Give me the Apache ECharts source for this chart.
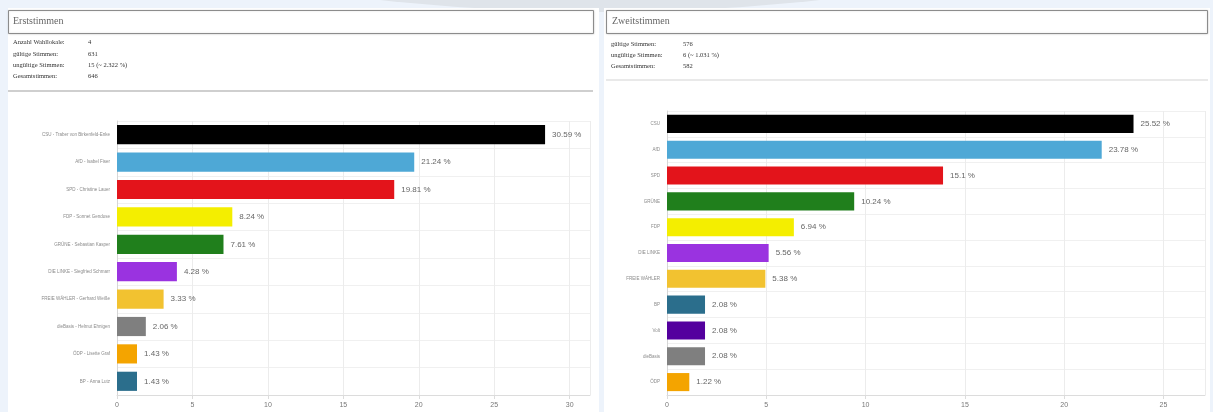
<!DOCTYPE html>
<html>
<head>
<meta charset="utf-8">
<style>
  html, body { margin: 0; padding: 0; background: #edf3fb; }
  #chart { width: 1213px; height: 412px; }
</style>
<script src="https://cdn.jsdelivr.net/npm/echarts@6/dist/echarts.min.js"></script>
</head>
<body>
<div id="chart"></div>
<script>
// ---------- data ----------
const erstCategories = [
  'CSU - Traber von Birkenfeld-Enke', 'AfD - Isabel Fiser', 'SPD - Christine Lauer',
  'FDP - Sonnet Gendose', 'GRÜNE - Sebastian Kasper', 'DIE LINKE - Siegfried Schmarr',
  'FREIE WÄHLER - Gerhard Weiße', 'dieBasis - Helmut Ehnigen', 'ÖDP - Lisette Graf', 'BP - Anna Lutz'
];
const erstValues = [30.59, 21.24, 19.81, 8.24, 7.61, 4.28, 3.33, 2.06, 1.43, 1.43];
const erstColors = ['#000000', '#4ea8d6', '#e3141b', '#f4ee00', '#207f1c', '#9a33e0', '#f2c230', '#7f7f7f', '#f4a400', '#2b6e8c'];

const zweitCategories = ['CSU', 'AfD', 'SPD', 'GRÜNE', 'FDP', 'DIE LINKE', 'FREIE WÄHLER', 'BP', 'Volt', 'dieBasis', 'ÖDP'];
const zweitValues = [25.52, 23.78, 15.1, 10.24, 6.94, 5.56, 5.38, 2.08, 2.08, 2.08, 1.22];
const zweitColors = ['#000000', '#4ea8d6', '#e3141b', '#207f1c', '#f4ee00', '#9a33e0', '#f2c230', '#2b6e8c', '#54009e', '#7f7f7f', '#f4a400'];

const xTicks = [0, 5, 10, 15, 20, 25, 30];

const erstInfo = [
  ['Anzahl Wahllokale:', '4'],
  ['gültige Stimmen:', '631'],
  ['ungültige Stimmen:', '15 (~ 2.322 %)'],
  ['Gesamtstimmen:', '646']
];
const zweitInfo = [
  ['gültige Stimmen:', '576'],
  ['ungültige Stimmen:', '6 (~ 1.031 %)'],
  ['Gesamtstimmen:', '582']
];

// ---------- chart ----------
const chart = echarts.init(document.getElementById('chart'), null, { renderer: 'canvas' });

function visAxis(gridIndex, max) {
  return {
    type: 'value', gridIndex: gridIndex, min: 0, max: max, interval: 5,
    axisLine: { show: true, lineStyle: { color: '#dcdcdc' } },
    axisTick: { show: true, length: 4, lineStyle: { color: '#dcdcdc' } },
    axisLabel: {
      fontSize: 7, color: '#777', margin: 7, showMaxLabel: false,
      fontFamily: 'Liberation Sans',
      formatter: v => (xTicks.indexOf(v) >= 0 ? String(v) : '')
    },
    splitLine: { show: true, lineStyle: { color: '#ececec' } }
  };
}
function barAxis(gridIndex, max) {
  return { type: 'value', gridIndex: gridIndex, min: 0, max: max, show: false, splitLine: { show: false } };
}
function catAxis(gridIndex, cats) {
  return {
    type: 'category', gridIndex: gridIndex, data: cats, inverse: true,
    axisLine: { show: true, lineStyle: { color: '#d6d6d6' } },
    axisTick: { show: false },
    axisLabel: { fontSize: 4.5, color: '#8a8a8a', margin: 7, fontFamily: 'Liberation Sans' },
    splitLine: { show: true, lineStyle: { color: '#f0f0f0' } }
  };
}
function barSeries(xi, yi, vals, cols) {
  return {
    type: 'bar', xAxisIndex: xi, yAxisIndex: yi, barCategoryGap: '30%',
    data: vals.map((v, i) => ({ value: v, itemStyle: { color: cols[i] } })),
    label: {
      show: true, position: 'right', distance: 7, fontSize: 8, color: '#666',
      fontFamily: 'Liberation Sans',
      formatter: p => p.value + ' %'
    },
    silent: true, animation: false
  };
}

function infoText(lines, x, y0, dy, valX) {
  const out = [];
  lines.forEach((l, i) => {
    out.push({ type: 'text', left: x, top: y0 + i * dy,
      style: { text: l[0], fontSize: 6.5, fill: '#333', fontFamily: 'Liberation Serif' } });
    out.push({ type: 'text', left: valX, top: y0 + i * dy,
      style: { text: l[1], fontSize: 6.5, fill: '#333', fontFamily: 'Liberation Serif' } });
  });
  return out;
}

const graphics = [
  { type: 'circle', shape: { cx: 600, cy: -2010, r: 2022 }, style: { fill: '#dfe4ea' }, z: -20 },
  { type: 'rect', shape: { x: 8, y: 8, width: 591, height: 404 }, style: { fill: '#ffffff' }, z: -10 },
  { type: 'rect', shape: { x: 604, y: 8, width: 606, height: 404 }, style: { fill: '#ffffff' }, z: -10 },
  { type: 'rect', shape: { x: 8.5, y: 10.5, width: 585, height: 23 },
    style: { fill: '#ffffff', stroke: '#8c8c8c', lineWidth: 1, shadowBlur: 2, shadowColor: 'rgba(0,0,0,0.15)' }, z: -5 },
  { type: 'rect', shape: { x: 606.5, y: 10.5, width: 601, height: 23 },
    style: { fill: '#ffffff', stroke: '#8c8c8c', lineWidth: 1, shadowBlur: 2, shadowColor: 'rgba(0,0,0,0.15)' }, z: -5 },
  { type: 'text', left: 13, top: 16, style: { text: 'Erststimmen', fontSize: 10, fill: '#666', fontFamily: 'Liberation Serif' } },
  { type: 'text', left: 612, top: 16, style: { text: 'Zweitstimmen', fontSize: 10, fill: '#666', fontFamily: 'Liberation Serif' } },
  { type: 'line', shape: { x1: 8, y1: 91, x2: 593, y2: 91 }, style: { stroke: '#cfcfcf', lineWidth: 2 } },
  { type: 'line', shape: { x1: 606, y1: 80, x2: 1208, y2: 80 }, style: { stroke: '#e2e2e2', lineWidth: 1.5 } }
].concat(infoText(erstInfo, 13, 39, 11.3, 88))
 .concat(infoText(zweitInfo, 611, 41, 11, 683));

chart.setOption({
  backgroundColor: '#edf3fb',
  animation: false,
  graphic: graphics,
  grid: [
    { left: 117, top: 121, width: 473, height: 274 },
    { left: 667, top: 111, width: 538, height: 284 }
  ],
  xAxis: [
    visAxis(0, 31.35),
    barAxis(0, 33.8),
    visAxis(1, 27.09),
    barAxis(1, 29.43)
  ],
  yAxis: [
    catAxis(0, erstCategories),
    catAxis(1, zweitCategories)
  ],
  series: [
    barSeries(1, 0, erstValues, erstColors),
    barSeries(3, 1, zweitValues, zweitColors)
  ]
});
</script>
</body>
</html>
